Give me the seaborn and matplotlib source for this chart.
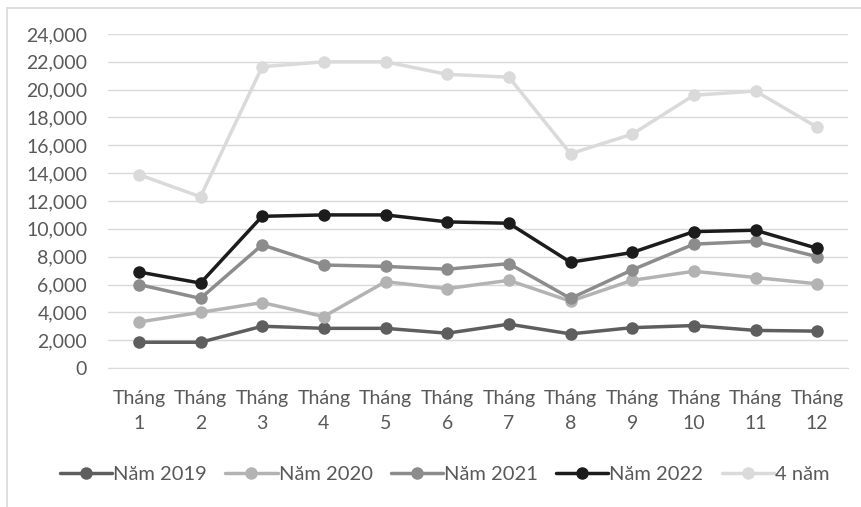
import pandas as pd
import matplotlib.pyplot as plt
import seaborn as sns
from matplotlib.patches import Rectangle
import matplotlib.ticker as mticker

# ─── Data ─────────────────────────────────────────────────────────────────────
months = [f'Tháng\n{m}' for m in range(1, 13)]
series_names = ['Năm 2019', 'Năm 2020', 'Năm 2021', 'Năm 2022', '4 năm']

nam_2019 = [1850, 1850, 3000, 2850, 2850, 2500, 3150, 2450, 2900, 3050, 2700, 2650]
nam_2020 = [3300, 4000, 4700, 3700, 6200, 5700, 6300, 4800, 6300, 6950, 6500, 6050]
nam_2021 = [6000, 5000, 8850, 7400, 7300, 7100, 7500, 5000, 7050, 8900, 9100, 8000]
nam_2022 = [6900, 6100, 10900, 11000, 11000, 10500, 10400, 7600, 8300, 9800, 9900, 8600]
bon_nam = [13900, 12300, 21650, 22000, 22000, 21100, 20900, 15400, 16800, 19600, 19900, 17300]

colors = ['#5e5e5e', '#b3b3b3', '#8c8c8c', '#1c1c1c', '#dadada']

rows = []
for name, vals in zip(series_names, [nam_2019, nam_2020, nam_2021, nam_2022, bon_nam]):
    for m, v in zip(months, vals):
        rows.append({'month': m, 'series': name, 'value': v})
df = pd.DataFrame(rows)

# ─── Style ────────────────────────────────────────────────────────────────────
sns.set_style('white')
plt.rcParams['font.family'] = ['Lato', 'DejaVu Sans']

fig = plt.figure(figsize=(8.61, 5.07), dpi=100)
ax = fig.add_axes([108 / 861, 139 / 507, 740 / 861, 334 / 507])

sns.lineplot(data=df, x='month', y='value', hue='series', hue_order=series_names,
             palette=colors, marker='o', markersize=9, markeredgewidth=0,
             linewidth=2.5, sort=False, ax=ax)

ax.set_xlim(-0.5, 11.5)
ax.set_ylim(0, 24000)
ax.yaxis.set_major_locator(mticker.MultipleLocator(2000))
ax.yaxis.set_major_formatter(mticker.FuncFormatter(lambda v, p: f'{v:,.0f}'))
ax.grid(axis='y', color='#d9d9d9', linewidth=1)
ax.set_axisbelow(True)
for s in ['top', 'right', 'left']:
    ax.spines[s].set_visible(False)
ax.spines['bottom'].set_color('#d9d9d9')

# category boundary ticks
ax.set_xticks([i + 0.5 for i in range(-1, 12)], minor=True)
ax.tick_params(axis='x', which='minor', length=6, color='#d9d9d9', width=1)
ax.tick_params(axis='x', which='major', length=0, pad=16, labelsize=14, labelcolor='#595959')
ax.tick_params(axis='y', length=0, pad=15, labelsize=14, labelcolor='#595959')
for t in ax.get_xticklabels():
    t.set_linespacing(1.55)
ax.set_xlabel('')
ax.set_ylabel('')

ax.legend(loc='center', bbox_to_anchor=(0.455, -0.32), ncol=5, frameon=False,
          fontsize=14.5, handlelength=2.6, handletextpad=0.05, columnspacing=0.9,
          labelcolor='#595959')

fig.patches.append(Rectangle((7 / 861, -0.1), 870 / 861, 1 - 8 / 507 + 0.1,
                             transform=fig.transFigure, fill=False,
                             edgecolor='#d9d9d9', linewidth=1.2))

fig.savefig('out.png', dpi=100)
